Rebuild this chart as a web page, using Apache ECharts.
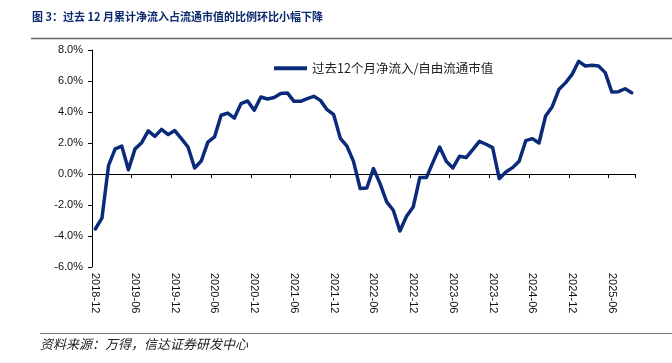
<!DOCTYPE html>
<html>
<head>
<meta charset="utf-8">
<script src="https://cdn.jsdelivr.net/npm/echarts@6/dist/echarts.min.js"></script>
<style>
html,body{margin:0;padding:0;background:#fff;}
#c{width:672px;height:363px;}
</style>
</head>
<body>
<div id="c"></div>
<script>
// Monthly categories 2018-12 .. 2025-09
const startYear = 2018, startMonth = 12, nMonths = 82;
const categories = [];
for (let k = 0; k < nMonths; k++) {
  const m0 = startMonth - 1 + k;
  const y = startYear + Math.floor(m0 / 12);
  const m = (m0 % 12) + 1;
  categories.push(y + '-' + (m < 10 ? '0' + m : '' + m));
}
const seriesName = '过去12个月净流入/自由流通市值';
const values = [
  -3.55, -2.85, 0.55, 1.62, 1.80, 0.27, 1.62, 2.02, 2.78, 2.43,
  2.88, 2.54, 2.80, 2.28, 1.74, 0.39, 0.84, 2.06, 2.39, 3.79,
  3.93, 3.61, 4.54, 4.71, 4.11, 4.97, 4.84, 4.93, 5.19, 5.23,
  4.69, 4.69, 4.86, 5.01, 4.75, 4.15, 3.83, 2.30, 1.80, 0.80,
  -0.94, -0.90, 0.35, -0.62, -1.80, -2.34, -3.68, -2.73, -2.13, -0.23,
  -0.23, 0.77, 1.74, 0.82, 0.39, 1.14, 1.06, 1.57, 2.11, 1.92,
  1.70, -0.30, 0.13, 0.41, 0.82, 2.15, 2.28, 2.00, 3.74, 4.34,
  5.45, 5.88, 6.43, 7.27, 6.97, 7.01, 6.97, 6.54, 5.29, 5.31,
  5.50, 5.24
];
const yTicks = { min: -6, max: 8, interval: 2 };
const titleText = '图 3：过去 12 月累计净流入占流通市值的比例环比小幅下降';
const sourceText = '资料来源：万得，信达证券研发中心';

const chart = echarts.init(document.getElementById('c'), null, {renderer: 'canvas'});
const navy = '#0a2a7a';
chart.setOption({
  animation: false,
  backgroundColor: '#fff',
  grid: { left: 92, right: 37, top: 50, bottom: 96, containLabel: false },
  legend: {
    data: [{ name: seriesName, icon: 'rect' }],
    left: 269, top: 57,
    itemWidth: 33, itemHeight: 4,
    textStyle: { fontSize: 12.5, color: '#222', fontFamily: 'Noto Sans CJK SC' }
  },
  xAxis: [
    {
      type: 'category', data: categories, boundaryGap: true,
      axisLine: { onZero: true, lineStyle: { color: '#000', width: 1 } },
      axisTick: { show: true, interval: 5, length: 4, lineStyle: { color: '#000' } },
      axisLabel: { show: false },
      splitLine: { show: false }
    },
    {
      type: 'category', data: categories, boundaryGap: true, position: 'bottom',
      axisLine: { show: false, onZero: false },
      axisTick: { show: false },
      axisLabel: { interval: 5, rotate: -90, fontSize: 11, color: '#111', margin: 6,
        fontFamily: 'Liberation Sans' },
      splitLine: { show: false }
    }
  ],
  yAxis: {
    type: 'value', min: yTicks.min, max: yTicks.max, interval: yTicks.interval,
    axisLine: { show: true, lineStyle: { color: '#000', width: 1 } },
    axisTick: { show: true, length: 4, lineStyle: { color: '#000' } },
    axisLabel: { fontSize: 11, color: '#111', margin: 9, fontFamily: 'Liberation Sans',
      formatter: v => v.toFixed(1) + '%' },
    splitLine: { show: false }
  },
  series: [{
    name: seriesName, type: 'line', data: values, xAxisIndex: 0,
    symbol: 'none', smooth: false,
    lineStyle: { color: navy, width: 3.5, join: 'round', cap: 'round' },
    itemStyle: { color: navy }
  }],
  graphic: [
    { type: 'text', left: 32, top: 11,
      style: { text: titleText, fill: '#0d2a6e', font: 'bold 11px "Noto Sans CJK SC"' } },
    { type: 'line', shape: { x1: 31, y1: 38.5, x2: 672, y2: 38.5 },
      style: { stroke: '#666', lineWidth: 1.5 } },
    { type: 'line', shape: { x1: 40, y1: 333.5, x2: 672, y2: 333.5 },
      style: { stroke: '#777', lineWidth: 1.2 } },
    { type: 'text', left: 40, top: 338,
      style: { text: sourceText, fill: '#222', font: 'italic 13px "Noto Sans CJK SC"' } }
  ]
});
</script>
</body>
</html>
